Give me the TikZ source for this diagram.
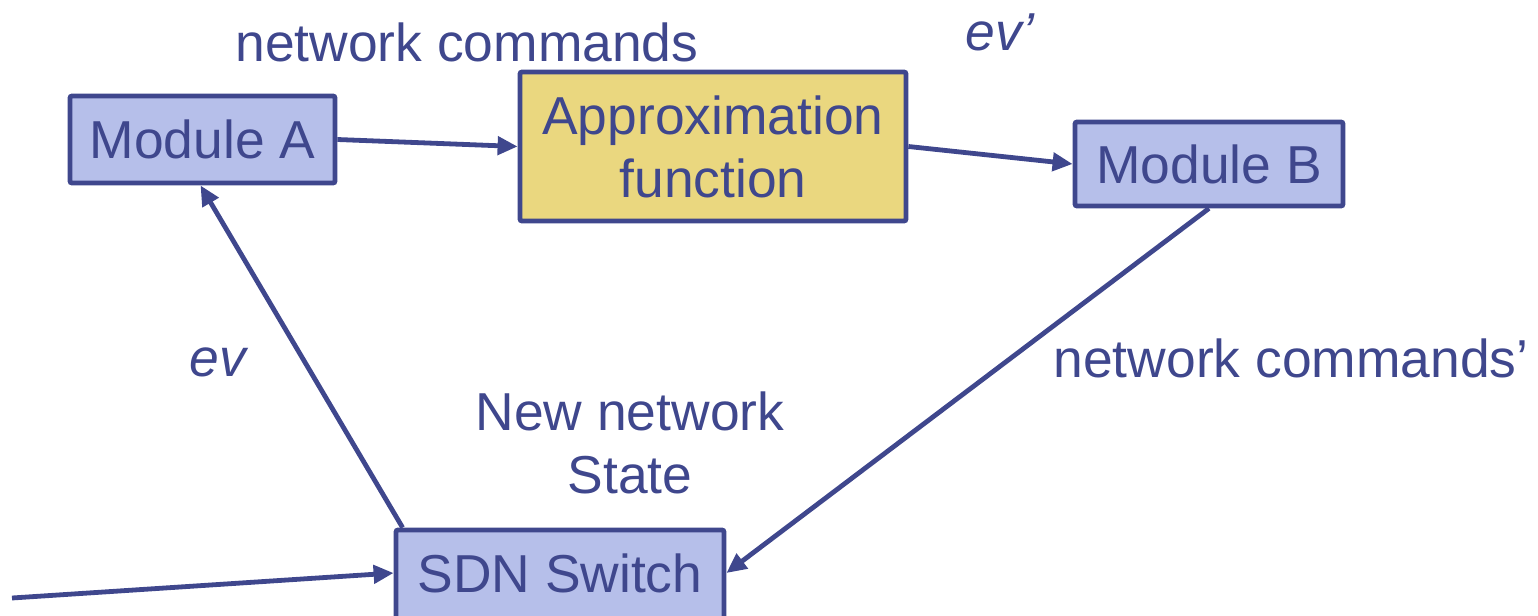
\documentclass[tikz,border=0pt]{standalone}
\usepackage{fontspec}
\setmainfont{Liberation Sans}
\usetikzlibrary{arrows.meta}
\definecolor{ink}{RGB}{63,71,141}
\definecolor{boxblue}{RGB}{182,191,234}
\definecolor{boxyellow}{RGB}{234,215,127}
\tikzset{
  px/.style={x=0.5pt,y=-0.5pt},
  modbox/.style={draw=ink,line width=2.4pt,rounded corners=1pt,fill=boxblue,inner sep=0pt,anchor=center},
  fnbox/.style={modbox,fill=boxyellow},
  lbl/.style={text=ink,font=\fontsize{26.7}{31.5}\selectfont,inner sep=0pt,align=center},
  conn/.style={draw=ink,line width=2.4pt,-{Triangle[length=10pt,width=9pt]}},
}
\begin{document}
\begin{tikzpicture}[px]
\useasboundingbox (0,0) rectangle (1538,616);
\node[modbox,minimum width=132.5pt,minimum height=43.5pt] (A) at (202.5,139.5) {};
\node[lbl] at (A.center) {Module A};
\node[fnbox,minimum width=193pt,minimum height=74.5pt] (F) at (713,146.5) {};
\node[lbl] at (F.center) {Approximation\\function};
\node[modbox,minimum width=134pt,minimum height=42pt] (B) at (1209,164) {};
\node[lbl] at (B.center) {Module B};
\node[modbox,minimum width=164pt,minimum height=45pt] (S) at (560,575) {};
\node[lbl] at (560,573) {SDN Switch};
\coordinate (in) at (12,598);
\node[lbl] (l1) at (467,42) {network commands};
\node[lbl] (l2) at (1000,32) {\itshape ev\textquoteright};
\node[lbl] (l3) at (218,362) {\itshape ev};
\node[lbl] (l4) at (1291,358) {network commands\textquoteright};
\node[lbl] (l5) at (630,443) {New network\\State};
\draw[conn] (A.east) -- (F.west);
\draw[conn] (F.east) -- (B.west);
\draw[conn] (B.south) -- (S.east |- 0,573);
\draw[conn] ([xshift=4.5pt]S.north west) -- ([xshift=-1pt]A.south);
\draw[conn] (in) -- (S.west |- 0,573);
\end{tikzpicture}
\end{document}
